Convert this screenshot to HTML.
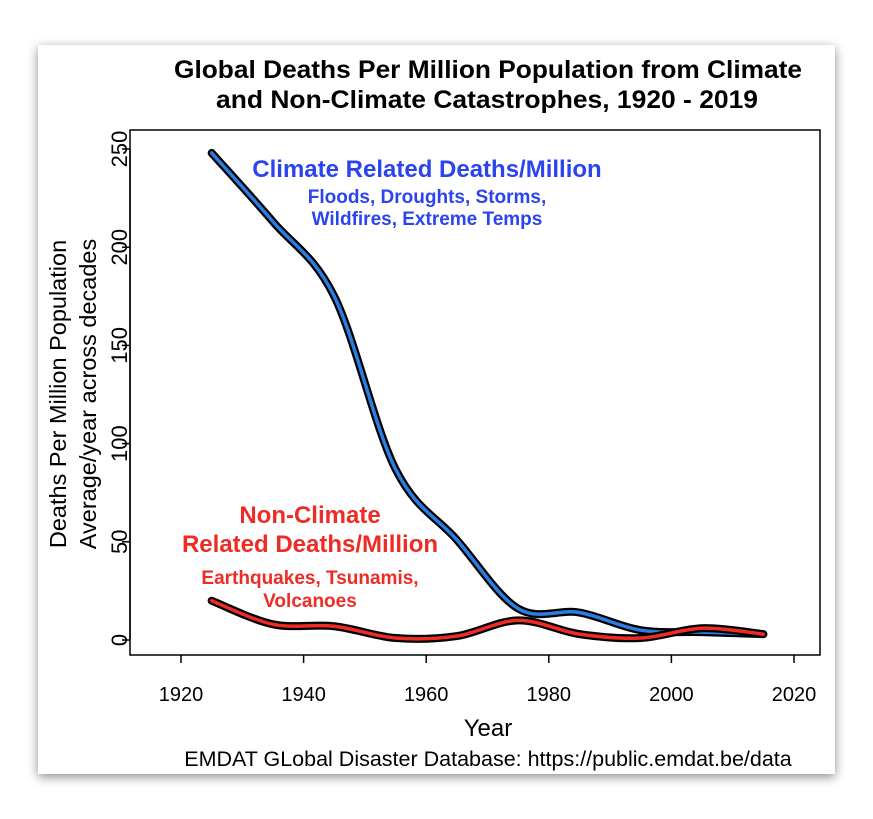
<!DOCTYPE html>
<html><head><meta charset="utf-8"><style>
body{margin:0;background:#fff;}
#card{position:absolute;left:38px;top:45px;width:797px;height:729px;background:#fff;box-shadow:0 3px 10px rgba(0,0,0,0.45);}
svg{position:absolute;left:0;top:0;}
text{font-family:"Liberation Sans",Arial,sans-serif;}
</style></head><body>
<div id="card"></div>
<svg id="chart" width="873" height="819">
<text x="488" y="78" font-size="25" font-weight="bold" text-anchor="middle" textLength="628" lengthAdjust="spacingAndGlyphs">Global Deaths Per Million Population from Climate</text>
<text x="487" y="108" font-size="25" font-weight="bold" text-anchor="middle" textLength="542" lengthAdjust="spacingAndGlyphs">and Non-Climate Catastrophes, 1920 - 2019</text>
<rect x="130" y="130" width="690" height="525" fill="none" stroke="#000" stroke-width="1.5"/>
<g id="yaxis"></g>
<g id="xaxis"></g>
<text transform="translate(66,394) rotate(-90)" font-size="23.5" text-anchor="middle">Deaths Per Million Population</text>
<text transform="translate(96,394) rotate(-90)" font-size="23.5" text-anchor="middle">Average/year across decades</text>
<text x="488" y="736" font-size="24" text-anchor="middle">Year</text>
<text x="488" y="766" font-size="21.5" text-anchor="middle">EMDAT GLobal Disaster Database: https://public.emdat.be/data</text>
<g id="series"></g>
<text x="427" y="177" font-size="24" font-weight="bold" fill="#2b44f0" text-anchor="middle">Climate Related Deaths/Million</text>
<text x="427" y="203" font-size="19" font-weight="bold" fill="#2b44f0" text-anchor="middle">Floods, Droughts, Storms,</text>
<text x="427" y="225" font-size="19" font-weight="bold" fill="#2b44f0" text-anchor="middle">Wildfires, Extreme Temps</text>
<text x="310" y="523" font-size="24" font-weight="bold" fill="#ee2b24" text-anchor="middle">Non-Climate</text>
<text x="310" y="552" font-size="24" font-weight="bold" fill="#ee2b24" text-anchor="middle">Related Deaths/Million</text>
<text x="310" y="584" font-size="19" font-weight="bold" fill="#ee2b24" text-anchor="middle">Earthquakes, Tsunamis,</text>
<text x="310" y="607" font-size="19" font-weight="bold" fill="#ee2b24" text-anchor="middle">Volcanoes</text>
</svg>
<script>
const years=[1925,1935,1945,1955,1965,1975,1985,1995,2005,2015];
const climate=[248,213,175,87,51,16,14,5,4,3];
const nonClimate=[20,8,7,1,2,10,3,1,6,3];
const yTicks=[0,50,100,150,200,250];
const xTicks=[1920,1940,1960,1980,2000,2020];
const NS="http://www.w3.org/2000/svg";
function xs(v){return 181+(v-1920)*6.13;}
function ys(v){return 640-v*1.964;}
function mk(t,a){const e=document.createElementNS(NS,t);for(const k in a)e.setAttribute(k,a[k]);return e;}
const ya=document.getElementById('yaxis');
ya.appendChild(mk('line',{x1:130,x2:130,y1:ys(0),y2:ys(250),stroke:'#000','stroke-width':1.5}));
yTicks.forEach(v=>{
 const l=mk('line',{x1:122,x2:130,y1:ys(v),y2:ys(v),stroke:'#000','stroke-width':1.5});
 
 
 ya.appendChild(l);
 const t=mk('text',{transform:`translate(127,${ys(v)}) rotate(-90)`,'font-size':22,'text-anchor':'middle'});
 
 
 t.textContent=v;ya.appendChild(t);
});
const xa=document.getElementById('xaxis');
xTicks.forEach(v=>{
 const l=mk('line',{x1:xs(v),x2:xs(v),y1:655,y2:663,stroke:'#000','stroke-width':1.5});
 
 
 xa.appendChild(l);
 const t=mk('text',{x:xs(v),y:701,'font-size':20,'text-anchor':'middle'});
 
 
 t.textContent=v;xa.appendChild(t);
});
function pathFor(vals){
 const p=years.map((y,i)=>[xs(y),ys(vals[i])]);
 let d=`M${p[0][0]},${p[0][1]}`;
 for(let i=0;i<p.length-1;i++){
  const p0=p[Math.max(i-1,0)],p1=p[i],p2=p[i+1],p3=p[Math.min(i+2,p.length-1)];
  const c1=[p1[0]+(p2[0]-p0[0])/6,p1[1]+(p2[1]-p0[1])/6];
  const c2=[p2[0]-(p3[0]-p1[0])/6,p2[1]-(p3[1]-p1[1])/6];
  d+=`C${c1[0]},${c1[1]} ${c2[0]},${c2[1]} ${p2[0]},${p2[1]}`;
 }
 return d;
}
const g=document.getElementById('series');
[[climate,'#2a7de1','climate'],[nonClimate,'#ee2b24','nonclimate']].forEach(([vals,col,name])=>{
 const d=pathFor(vals);
 const o=mk('path',{d:d,fill:'none',stroke:'#000','stroke-width':8,'stroke-linecap':'round'});
 
 
 g.appendChild(o);
 const i=mk('path',{d:d,fill:'none',stroke:col,'stroke-width':3.5,'stroke-linecap':'round'});
 
 
 g.appendChild(i);
});
</script>
</body></html>
